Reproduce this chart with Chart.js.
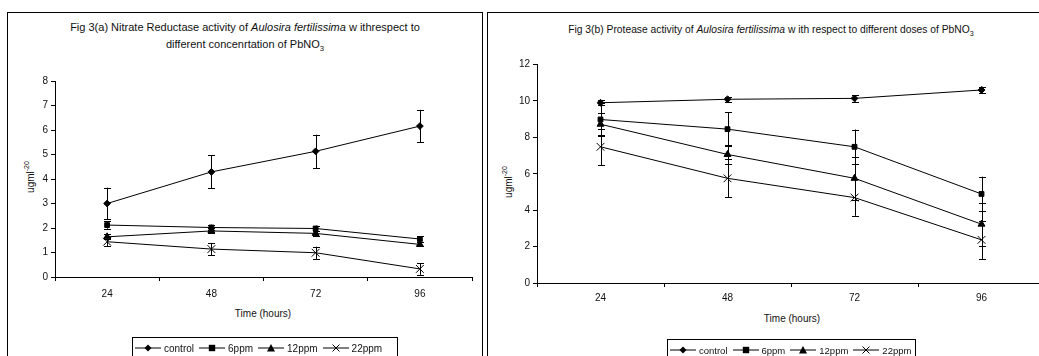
<!DOCTYPE html>
<html>
<head>
<meta charset="utf-8">
<script src="https://cdn.jsdelivr.net/npm/chart.js@4.4.1/dist/chart.umd.min.js"></script>
<style>
  html, body { margin:0; padding:0; background:#fff; width:1039px; height:356px; overflow:hidden; }
  body { position:relative; font-family:"Liberation Sans", Arial, sans-serif; color:#111; }
  .box { position:absolute; border:1px solid #000; border-bottom:none; }
  canvas { position:absolute; }
  .title { position:absolute; text-align:center; line-height:17px; white-space:nowrap; }
  .ylab { position:absolute; transform:translate(-50%,-50%) rotate(-90deg); font-size:10px; white-space:nowrap; }
  .xlab { position:absolute; transform:translate(-50%,-50%); font-size:10px; white-space:nowrap; }
  .legend { position:absolute; border:1px solid #000; display:flex; align-items:center; height:22px; padding-left:2px; box-sizing:border-box; white-space:nowrap; }
  .legend span.t { margin:0 5px 0 3px; }
  sub, sup { font-size:70%; line-height:0; }
</style>
</head>
<body>
<div class="box" style="left:7px; top:12px; width:474px; height:360px;"></div>
<div class="box" style="left:487px; top:12px; width:580px; height:360px;"></div>

<div class="title" style="left:8px; width:474px; top:19px; font-size:11px;">Fig 3(a) Nitrate Reductase activity of <i>Aulosira fertilissima</i> w ithrespect to<br>different concenrtation of PbNO<sub>3</sub></div>
<div class="title" style="left:488px; width:566px; top:21px; font-size:10.3px;">Fig 3(b) Protease activity of <i>Aulosira fertilissima</i> w ith respect to different doses of PbNO<sub>3</sub></div>

<div class="ylab" style="left:30px; top:177px;">ugml<sup>-20</sup></div>
<div class="ylab" style="left:508px; top:182px;">ugml<sup>-20</sup></div>
<div class="xlab" style="left:263px; top:313px;">Time (hours)</div>
<div class="xlab" style="left:792px; top:318px;">Time (hours)</div>

<canvas id="c1" width="482" height="356" style="left:0; top:0; width:482px; height:356px;"></canvas>
<canvas id="c2" width="580" height="356" style="left:488px; top:0; width:580px; height:356px;"></canvas>

<div class="legend" id="leg1" style="left:132px; top:337px; width:266px; font-size:10px;"></div>
<div class="legend" id="leg2" style="left:667px; top:339px; width:249px; font-size:9.5px;"></div>

<script>
// ---- Data ----
const categories = ['24', '48', '72', '96'];
const seriesNames = ['control', '6ppm', '12ppm', '22ppm'];

// Fig 3(a) Nitrate reductase
const nrControl = [3.0, 4.29, 5.13, 6.16];
const nrControlErr = [0.65, 0.67, 0.68, 0.66];
const nr6ppm = [2.12, 2.02, 1.98, 1.55];
const nr6ppmErr = [0.15, 0.12, 0.12, 0.12];
const nr12ppm = [1.64, 1.88, 1.78, 1.33];
const nr12ppmErr = [0.1, 0.1, 0.1, 0.08];
const nr22ppm = [1.44, 1.14, 0.99, 0.33];
const nr22ppmErr = [0.18, 0.25, 0.25, 0.24];

// Fig 3(b) Protease
const prControl = [9.9, 10.09, 10.14, 10.6];
const prControlErr = [0.15, 0.15, 0.18, 0.18];
const pr6ppm = [8.98, 8.45, 7.48, 4.89];
const pr6ppmErr = [0.9, 0.93, 0.95, 0.95];
const pr12ppm = [8.72, 7.06, 5.75, 3.23];
const pr12ppmErr = [0.6, 0.5, 1.18, 1.18];
const pr22ppm = [7.48, 5.75, 4.69, 2.37];
const pr22ppmErr = [1.0, 1.05, 1.0, 1.05];

const yTicksA = [0, 1, 2, 3, 4, 5, 6, 7, 8];
const yTicksB = [0, 2, 4, 6, 8, 10, 12];

// ---- Styles ----
const pointStyles = ['rectRot', 'rect', 'triangle', 'crossRot'];
const pointRadii = [3.4, 3.4, 4, 5.5];

const errorBars = {
  id: 'errorBars',
  afterDatasetsDraw(chart) {
    const ctx = chart.ctx;
    const y = chart.scales.y;
    ctx.save();
    ctx.strokeStyle = '#000';
    ctx.lineWidth = 1;
    chart.data.datasets.forEach((ds, i) => {
      const meta = chart.getDatasetMeta(i);
      ds.errors.forEach((e, j) => {
        const pt = meta.data[j];
        const x = Math.round(pt.x) + 0.5;
        const yt = y.getPixelForValue(ds.data[j] + e);
        const yb = y.getPixelForValue(ds.data[j] - e);
        const c = 3.5;
        ctx.beginPath();
        ctx.moveTo(x, yt); ctx.lineTo(x, yb);
        ctx.moveTo(x - c, Math.round(yt) + 0.5); ctx.lineTo(x + c, Math.round(yt) + 0.5);
        ctx.moveTo(x - c, Math.round(yb) + 0.5); ctx.lineTo(x + c, Math.round(yb) + 0.5);
        ctx.stroke();
      });
    });
    ctx.restore();
  }
};

function makeDatasets(vals, errs) {
  return vals.map((v, i) => ({
    label: seriesNames[i],
    data: v,
    errors: errs[i],
    borderColor: '#000',
    backgroundColor: '#000',
    borderWidth: 1,
    pointStyle: pointStyles[i],
    pointRadius: pointRadii[i],
    pointBorderWidth: 1,
    pointBackgroundColor: '#000',
    pointBorderColor: '#000',
    tension: 0
  }));
}

function makeChart(id, vals, errs, yMax, step, pad, yWidth, xHeight, xPad, tickFont) {
  return new Chart(document.getElementById(id), {
    type: 'line',
    data: { labels: categories, datasets: makeDatasets(vals, errs) },
    plugins: [errorBars],
    options: {
      responsive: false,
      animation: false,
      events: [],
      layout: { padding: pad },
      plugins: { legend: { display: false }, tooltip: { enabled: false }, title: { display: false } },
      scales: {
        x: {
          offset: true,
          grid: { offset: true, drawOnChartArea: false, color: '#000', tickLength: 4, lineWidth: 1 },
          border: { color: '#000', width: 1 },
          ticks: { color: '#111', font: { family: 'Liberation Sans', size: tickFont }, padding: xPad, maxRotation: 0 },
          afterFit(s) { s.height = xHeight; }
        },
        y: {
          min: 0, max: yMax,
          grid: { drawOnChartArea: false, color: '#000', tickLength: 4, lineWidth: 1 },
          border: { color: '#000', width: 1 },
          ticks: { stepSize: step, color: '#111', font: { family: 'Liberation Sans', size: tickFont }, padding: 3 },
          afterFit(s) { s.width = yWidth; }
        }
      }
    }
  });
}

makeChart('c1',
  [nrControl, nr6ppm, nr12ppm, nr22ppm],
  [nrControlErr, nr6ppmErr, nr12ppmErr, nr22ppmErr],
  yTicksA[yTicksA.length - 1], yTicksA[1] - yTicksA[0],
  { top: 81, right: 10, bottom: 0, left: 0 }, 55, 79, 7, 10);

makeChart('c2',
  [prControl, pr6ppm, pr12ppm, pr22ppm],
  [prControlErr, pr6ppmErr, pr12ppmErr, pr22ppmErr],
  yTicksB[yTicksB.length - 1], yTicksB[1] - yTicksB[0],
  { top: 64.5, right: 23, bottom: 0, left: 0 }, 49, 73, 5, 10);

// ---- HTML legends ----
function icon(style) {
  let m = '';
  if (style === 'rectRot') m = '<polygon points="13,1.5 16.5,5 13,8.5 9.5,5" fill="#000"/>';
  if (style === 'rect') m = '<rect x="9.8" y="1.8" width="6.4" height="6.4" fill="#000"/>';
  if (style === 'triangle') m = '<polygon points="13,1 17,8.5 9,8.5" fill="#000"/>';
  if (style === 'crossRot') m = '<path d="M9.5,1.5 L16.5,8.5 M16.5,1.5 L9.5,8.5" stroke="#000" stroke-width="1"/>';
  return '<svg width="26" height="10" style="flex:none"><line x1="0" y1="5" x2="26" y2="5" stroke="#000" stroke-width="1"/>' + m + '</svg>';
}
['leg1', 'leg2'].forEach(id => {
  document.getElementById(id).innerHTML = seriesNames.map((n, i) =>
    icon(pointStyles[i]) + '<span class="t">' + n + '</span>').join('');
});
</script>
</body>
</html>
